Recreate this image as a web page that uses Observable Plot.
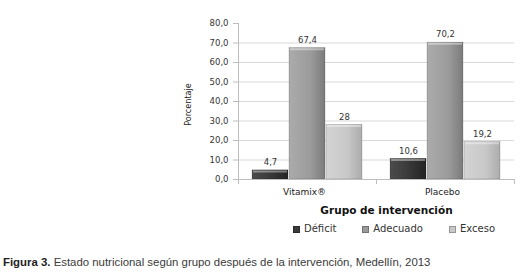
<!DOCTYPE html>
<html>
<head>
<meta charset="utf-8">
<script src="https://cdn.jsdelivr.net/npm/d3@7"></script>
<script src="https://cdn.jsdelivr.net/npm/@observablehq/plot@0.6"></script>
<style>
  html, body { margin: 0; padding: 0; background: #fff; }
  #wrap { width: 527px; height: 278px; position: relative; overflow: hidden; font-family: "DejaVu Sans", sans-serif; }
  #chart svg { display: block; }
  .legend { display: flex; align-items: center; height: 14px; line-height: 14px; padding-left: 293px; font-size: 10px; color: #333; }
  .legend .item { display: flex; align-items: center; margin-right: 26px; }
  .legend .sw { width: 7px; height: 7px; margin-right: 4px; box-sizing: border-box; border: 1px solid rgba(0,0,0,0.25); }
  .caption { margin-top: 19px; padding-left: 3px; font-family: "Liberation Sans", Arial, sans-serif; font-size: 11.4px; line-height: 14px; color: #3a3a3a; white-space: nowrap; }
  .caption b { color: #222; }
</style>
</head>
<body>
<div id="wrap">
  <div id="chart"></div>
  <div class="legend" id="legend"></div>
  <div class="caption"><b>Figura 3.</b> Estado nutricional según grupo después de la intervención, Medellín, 2013</div>
</div>
<script>
const groups = ["Vitamix®", "Placebo"];
const categories = ["Déficit", "Adecuado", "Exceso"];
const vitamixValues = [4.7, 67.4, 28];
const placeboValues = [10.6, 70.2, 19.2];
const yTicks = [0, 10, 20, 30, 40, 50, 60, 70, 80];
const yLabel = "Porcentaje";
const xLabel = "Grupo de intervención";
const swatchColors = ["#3a3a3a", "#9a9a9a", "#c8c8c8"];

const seriesByGroup = [vitamixValues, placeboValues];
const data = groups.flatMap((g, i) => categories.map((c, j) => ({group: g, cat: c, value: seriesByGroup[i][j]})));

const commaFmt = d => String(d).replace(".", ",");
const tickFmt = d => d3.format(".1f")(d).replace(".", ",");

const chart = Plot.plot({
  width: 527,
  height: 222,
  marginLeft: 237,
  marginRight: 13,
  marginTop: 23,
  marginBottom: 43,
  style: {fontFamily: "DejaVu Sans, sans-serif", background: "transparent"},
  fx: {domain: groups, padding: 0, label: null},
  x: {domain: categories, paddingInner: 0.03, paddingOuter: 0.37, axis: null},
  y: {domain: [0, 80], axis: null},
  color: {type: "ordinal", domain: categories, range: ["url(#gDef)", "url(#gAde)", "url(#gExc)"]},
  marks: [
    Plot.gridY(yTicks.filter(t => t > 0 && t < 80), {stroke: "#d9d9d9", strokeOpacity: 1}),
    Plot.axisY(yTicks, {anchor: "left", tickFormat: tickFmt, tickSize: 5, tickPadding: 5, fontSize: 8.5, stroke: "#bdbdbd", strokeOpacity: 1, fill: "#333", label: null}),
    Plot.frame({anchor: "left", facetAnchor: "left", stroke: "#bdbdbd"}),
    Plot.text([yLabel], {frameAnchor: "left", facetAnchor: "left", textAnchor: "middle", rotate: -90, dx: -50, dy: 3, fontSize: 9, fill: "#222", fontFamily: "DejaVu Sans Condensed, DejaVu Sans, sans-serif"}),
    Plot.barY(data, {fx: "group", x: "cat", y: "value", fill: "cat", stroke: "rgba(0,0,0,0.25)", strokeWidth: 0.6}),
    Plot.tickY(data, {fx: "group", x: "cat", y: "value", stroke: "white", strokeOpacity: 0.4, strokeWidth: 2, dy: 1.2, inset: 1}),
    Plot.text(data, {fx: "group", x: "cat", y: "value", text: d => commaFmt(d.value), dy: -8, fontSize: 8.5, fill: "#333"}),
    Plot.ruleY([0], {stroke: "#bdbdbd"}),
    Plot.frame({anchor: "left", insetTop: 156, insetBottom: -4, stroke: "#bdbdbd"}),
    Plot.frame({anchor: "right", facetAnchor: "right", insetTop: 156, insetBottom: -4, stroke: "#bdbdbd"}),
    Plot.axisFx({anchor: "bottom", tickSize: 0, tickPadding: 9, fontSize: 9, fill: "#222", label: null, dx: -3}),
    Plot.text([xLabel], {frameAnchor: "bottom-left", facetAnchor: "right", textAnchor: "middle", lineAnchor: "middle", dx: 10, dy: 31, fontSize: 10.5, fontWeight: "bold", fill: "#111"})
  ]
});

// gradients for the bevelled bar look
const defs = d3.select(chart).insert("defs", ":first-child");
const grads = [
  ["gDef", [["0%", "#4c4c4c"], ["50%", "#3a3a3a"], ["100%", "#232323"]]],
  ["gAde", [["0%", "#ababab"], ["60%", "#9b9b9b"], ["100%", "#7b7b7b"]]],
  ["gExc", [["0%", "#d4d4d4"], ["60%", "#c8c8c8"], ["100%", "#acacac"]]]
];
for (const [id, stops] of grads) {
  const g = defs.append("linearGradient").attr("id", id).attr("x1", "0").attr("x2", "1").attr("y1", "0").attr("y2", "0");
  for (const [o, c] of stops) g.append("stop").attr("offset", o).attr("stop-color", c);
}
document.getElementById("chart").appendChild(chart);

const legend = document.getElementById("legend");
categories.forEach((c, i) => {
  const item = document.createElement("div");
  item.className = "item";
  const sw = document.createElement("span");
  sw.className = "sw";
  sw.style.background = swatchColors[i];
  const t = document.createElement("span");
  t.textContent = c;
  item.appendChild(sw);
  item.appendChild(t);
  legend.appendChild(item);
});
</script>
</body>
</html>
